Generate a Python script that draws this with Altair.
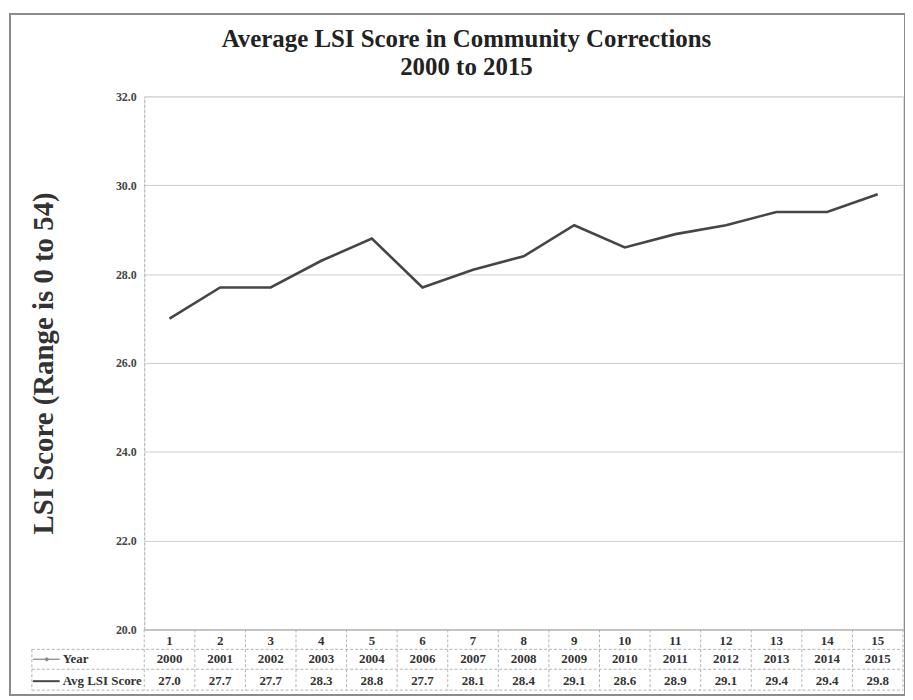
import altair as alt
import pandas as pd

# ---- data ----
indices = list(range(1, 16))
years = ["2000", "2001", "2002", "2003", "2004", "2006", "2007", "2008",
         "2009", "2010", "2011", "2012", "2013", "2014", "2015"]
scores = [27.0, 27.7, 27.7, 28.3, 28.8, 27.7, 28.1, 28.4,
          29.1, 28.6, 28.9, 29.1, 29.4, 29.4, 29.8]
y_ticks = [20, 22, 24, 26, 28, 30, 32]
title_lines = ["Average LSI Score in Community Corrections", "2000 to 2015"]
y_title = "LSI Score (Range is 0 to 54)"
row_labels = ["Year", "Avg LSI Score"]

df = pd.DataFrame({"Index": indices, "Year": years, "Score": scores})
one = pd.DataFrame({"k": [0]})

W, H = 763, 536
SERIF = "Liberation Serif"
GRID = "#cfcfcf"
TABLE = "#b3b3b3"
TEXT = "#333333"
LINE = "#464646"

# table layout (pixels relative to plot origin)
ROW1_Y, ROW2_Y = 566, 588
HL = [556, 576, 597]
TABLE_LEFT = -113

xscale = alt.Scale(type="band", paddingInner=0, paddingOuter=0)

base = alt.Chart(df)

line = base.mark_line(color=LINE, strokeWidth=2.6).encode(
    x=alt.X("Index:O", scale=xscale, bandPosition=0.5,
            axis=alt.Axis(title=None, labelAngle=0, ticks=False, grid=False,
                          domainColor="#a8a8a8", labelFont=SERIF,
                          labelFontSize=13, labelFontWeight="bold",
                          labelColor=TEXT, labelPadding=5)),
    y=alt.Y("Score:Q",
            scale=alt.Scale(domain=[20, 32], nice=False, zero=False),
            axis=alt.Axis(values=y_ticks, format=".1f", title=y_title,
                          titleFont=SERIF, titleFontSize=29,
                          titleFontWeight="bold", titleColor="#333333",
                          titleAngle=-90, titleX=-86, titleY=H / 2,
                          titleAlign="center", titleBaseline="bottom",
                          labelFont=SERIF, labelFontSize=12,
                          labelFontWeight="bold", labelColor="#444444",
                          labelPadding=8, ticks=False, grid=True,
                          gridColor=GRID, domainColor="#b5b5b5",
                          domainDash=[3, 2])),
)

year_text = base.mark_text(font=SERIF, fontSize=13, fontWeight="bold",
                           color=TEXT, baseline="middle").encode(
    x=alt.X("Index:O", bandPosition=0.5), y=alt.value(ROW1_Y), text="Year:N")

score_text = base.mark_text(font=SERIF, fontSize=13, fontWeight="bold",
                            color=TEXT, baseline="middle").encode(
    x=alt.X("Index:O", bandPosition=0.5), y=alt.value(ROW2_Y),
    text=alt.Text("Score:Q", format=".1f"))

vlines = base.mark_rule(color=TABLE, strokeDash=[3, 2]).encode(
    x=alt.X("Index:O", bandPosition=0), y=alt.value(H), y2=alt.value(HL[2]))

layers = [line, year_text, score_text, vlines]

oc = alt.Chart(one)
layers.append(oc.mark_rule(color=TABLE, strokeDash=[3, 2]).encode(
    x=alt.value(W), y=alt.value(H), y2=alt.value(HL[2])))
layers.append(oc.mark_rule(color=TABLE, strokeDash=[3, 2]).encode(
    x=alt.value(TABLE_LEFT), y=alt.value(HL[0]), y2=alt.value(HL[2])))
for hy in HL:
    layers.append(oc.mark_rule(color=TABLE, strokeDash=[3, 2]).encode(
        x=alt.value(TABLE_LEFT), x2=alt.value(W), y=alt.value(hy)))

# legend keys
layers.append(oc.mark_rule(color="#9a9a9a", strokeWidth=1.5).encode(
    x=alt.value(-112), x2=alt.value(-85), y=alt.value(ROW1_Y)))
layers.append(oc.mark_point(shape="diamond", filled=True, color="#8a8a8a",
                            size=22, opacity=1).encode(
    x=alt.value(-98), y=alt.value(ROW1_Y)))
layers.append(oc.mark_rule(color=LINE, strokeWidth=2).encode(
    x=alt.value(-112), x2=alt.value(-85), y=alt.value(ROW2_Y)))
for lbl, yy in zip(row_labels, [ROW1_Y, ROW2_Y]):
    layers.append(oc.mark_text(font=SERIF, fontSize=13, fontWeight="bold",
                               color=TEXT, align="left",
                               baseline="middle").encode(
        x=alt.value(-82), y=alt.value(yy), text=alt.value(lbl)))

# chart title (two lines)
for txt, yy in zip(title_lines, [-58, -30]):
    layers.append(oc.mark_text(font=SERIF, fontSize=25, fontWeight="bold",
                               color="#222222", align="center",
                               baseline="middle").encode(
        x=alt.value(324), y=alt.value(yy), text=alt.value(txt)))

# outer frame of the figure
layers.append(oc.mark_rect(filled=False, stroke="#8c8c8c",
                           strokeWidth=2).encode(
    x=alt.value(-135), x2=alt.value(765), y=alt.value(-83),
    y2=alt.value(602)))

chart = alt.layer(*layers).properties(
    width=W, height=H,
    padding={"left": 137, "top": 87, "right": 2, "bottom": 69},
    autosize=alt.AutoSizeParams(type="none"),
).configure_view(stroke=None).configure(background="white")

chart.save("out.html", embed_options={"renderer": "svg", "actions": False})
